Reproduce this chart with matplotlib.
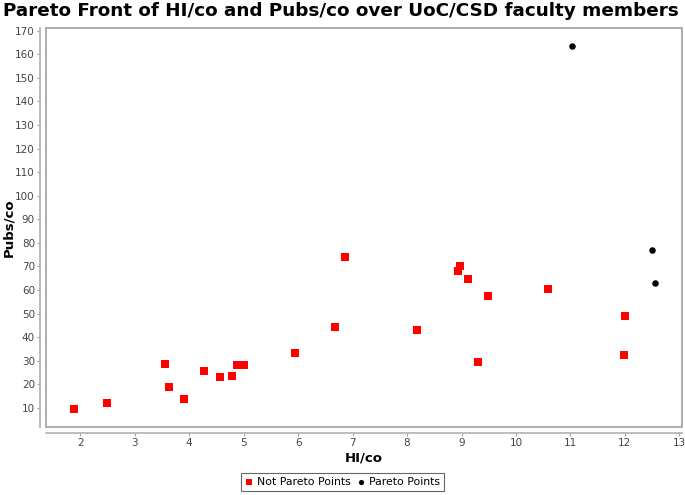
import matplotlib.pyplot as plt
from matplotlib.patches import Rectangle

# not pareto points (HI/co, Pubs/co)
hi_not = [1.89, 2.49, 3.55, 3.63, 3.91, 4.28, 4.57, 4.79, 4.87, 5.01, 5.94, 6.67,
          6.86, 8.98, 8.94, 9.12, 9.48, 10.59, 8.19, 9.31, 12.01, 11.98]
pubs_not = [9.6, 12.0, 28.7, 18.9, 13.8, 25.6, 23.1, 23.7, 28.4, 28.1, 33.3, 44.3,
            74.0, 70.3, 68.0, 64.7, 57.5, 60.3, 43.2, 29.5, 49.0, 32.6]

# pareto points
hi_par = [11.03, 12.49, 12.56]
pubs_par = [163.6, 77.0, 62.9]

xticks = list(range(2, 14))
yticks = list(range(10, 180, 10))

fig = plt.figure(figsize=(6.85, 4.95), dpi=100)
ax = fig.add_axes([0.0672, 0.1368, 0.9285, 0.806])

ax.scatter(hi_not, pubs_not, marker='s', s=34, color='#ff0000', linewidths=0,
           label='Not Pareto Points', zorder=3)
ax.scatter(hi_par, pubs_par, marker='o', s=22, color='black', linewidths=0,
           label='Pareto Points', zorder=3)

ax.set_xlim(1.37, 13.05)
ax.set_ylim(1.8, 171)
ax.set_xticks(xticks)
ax.set_yticks(yticks)

# JFreeChart-like look: outline box plus offset axis lines
for s in ['top', 'right']:
    ax.spines[s].set_visible(False)
for s in ['left', 'bottom']:
    ax.spines[s].set_position(('outward', 4))
    ax.spines[s].set_color('#b0b0b0')
    ax.spines[s].set_linewidth(1.2)
ax.add_patch(Rectangle((0, 0), 1, 1, transform=ax.transAxes, fill=False,
                       edgecolor='#a0a0a0', lw=1.2, clip_on=False))
ax.tick_params(length=2, width=0.8, color='#a0a0a0', labelsize=7.5,
               labelcolor='#444444', pad=2)

ax.set_xlabel('HI/co', fontsize=9.5, fontweight='bold', labelpad=2)
ax.set_ylabel('Pubs/co', fontsize=9.5, fontweight='bold')
ax.yaxis.set_label_coords(-0.049, 0.5)
fig.text(0.497, 0.977, 'Pareto Front of HI/co and Pubs/co over UoC/CSD faculty members',
         ha='center', va='center', fontsize=13.2, fontweight='bold')

leg = ax.legend(loc='center', bbox_to_anchor=(0.5, 0.026), bbox_transform=fig.transFigure,
                ncol=2, fontsize=7.8, frameon=True, fancybox=False, edgecolor='#404040',
                handletextpad=0.3, columnspacing=0.6, borderpad=0.35, handlelength=0.8,
                markerscale=0.8)
leg.get_frame().set_linewidth(0.8)

fig.savefig('out.png', dpi=100)
